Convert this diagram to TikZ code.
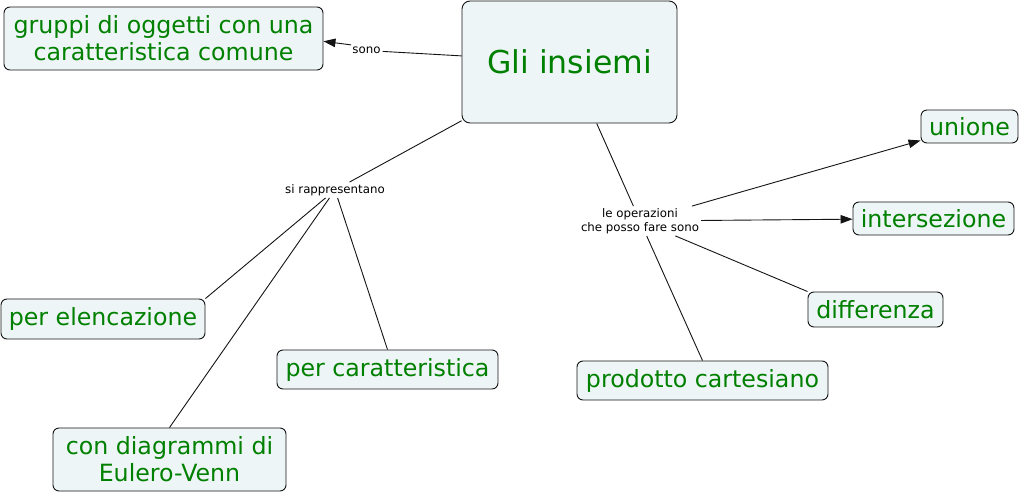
\documentclass[tikz,border=0pt]{standalone}
\usepackage{fontspec}
\setmainfont{DejaVu Sans}
\usetikzlibrary{arrows.meta}
\definecolor{cgreen}{RGB}{0,128,0}
\definecolor{cfill}{RGB}{238,245,246}
\definecolor{cline}{RGB}{20,20,20}
\begin{document}
\begin{tikzpicture}[x=1pt,y=-1pt,
  concept/.style={draw=cline, line width=0.9pt, fill=cfill, rounded corners=6pt,
    inner sep=0pt, align=center, text=cgreen,
    font=\fontsize{23.7}{27}\selectfont},
  linkph/.style={inner sep=2pt, align=center, text=black,
    font=\fontsize{11.8}{14}\selectfont},
  conn/.style={draw=cline, line width=0.9pt},
  arr/.style={conn, -{Triangle[length=12pt,width=8.5pt]}}
]
\useasboundingbox (0,0) rectangle (1021,494);

% concepts
\node[concept, minimum width=215pt, minimum height=122pt, rounded corners=8pt,
      font=\fontsize{31.5}{36}\selectfont] (ins) at (569.5,62) {Gli insiemi};
\node[concept, minimum width=319pt, minimum height=63pt] (grp) at (163.5,38.5)
      {gruppi di oggetti con una\\caratteristica comune};
\node[concept, minimum width=97pt, minimum height=33pt] (uni) at (969.5,126.5) {unione};
\node[concept, minimum width=161pt, minimum height=33pt] (int) at (933.5,218.5) {intersezione};
\node[concept, minimum width=135pt, minimum height=35pt] (dif) at (875.5,309.5) {differenza};
\node[concept, minimum width=251pt, minimum height=39pt] (pro) at (702.5,380.5) {prodotto cartesiano};
\node[concept, minimum width=204pt, minimum height=40pt] (ele) at (103,319) {per elencazione};
\node[concept, minimum width=221pt, minimum height=39pt] (car) at (387.5,369.5) {per caratteristica};
\node[concept, minimum width=233pt, minimum height=63pt] (ven) at (169.5,459.5)
      {con diagrammi di\\Eulero-Venn};

% linking phrases
\node[linkph] (sono) at (366.5,50.5) {sono};
\node[linkph] (sir) at (335,190) {si rappresentano};
\node[linkph] (ope) at (640,221) {le operazioni\\che posso fare sono};

% connectors
\draw[conn] (ins) -- (sono);
\draw[arr] (sono.160) -- (grp.-1);
\draw[conn] (ins) -- (sir);
\draw[conn] (sir) -- (ele.north east);
\draw[conn] (sir) -- (ven.north);
\draw[conn] (sir) -- (car.north);
\draw[conn] (ins) -- (ope);
\draw[arr] (ope) -- (uni);
\draw[arr] (ope) -- (int);
\draw[conn] (ope) -- (dif.north west);
\draw[conn] (ope) -- (pro.north);
\end{tikzpicture}
\end{document}
